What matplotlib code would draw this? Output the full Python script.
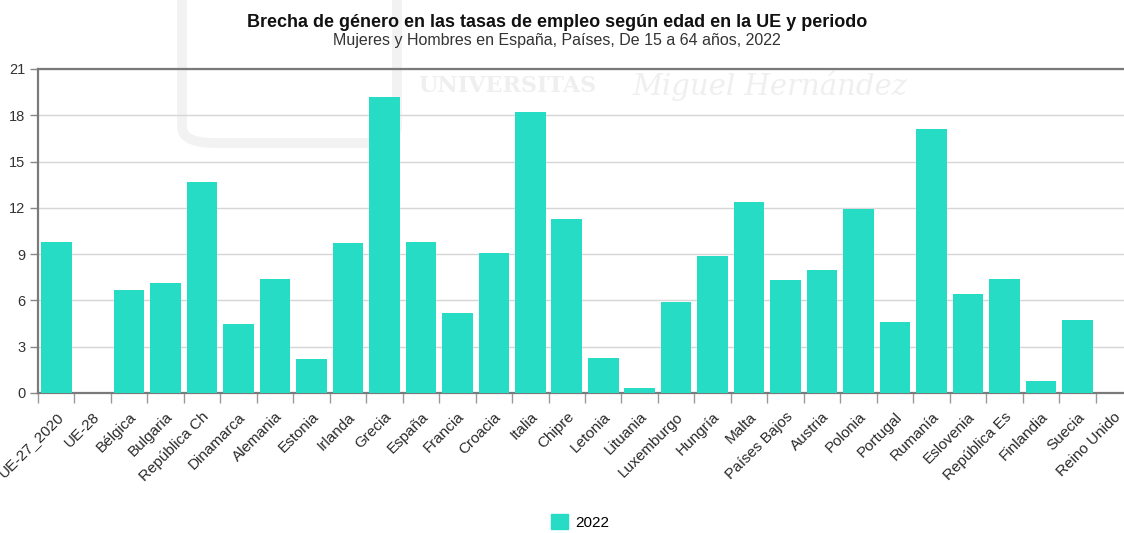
import matplotlib.pyplot as plt
from matplotlib.patches import Patch, FancyBboxPatch

plt.rcParams['font.family'] = ['Liberation Sans', 'DejaVu Sans']

TITLE = 'Brecha de género en las tasas de empleo según edad en la UE y periodo'
SUBTITLE = 'Mujeres y Hombres en España, Países, De 15 a 64 años, 2022'
SERIES = '2022'
BAR_COLOR = '#27dcc5'

countries = [
    'UE-27_2020', 'UE-28', 'Bélgica', 'Bulgaria', 'República Ch', 'Dinamarca',
    'Alemania', 'Estonia', 'Irlanda', 'Grecia', 'España', 'Francia', 'Croacia',
    'Italia', 'Chipre', 'Letonia', 'Lituania', 'Luxemburgo', 'Hungría', 'Malta',
    'Países Bajos', 'Austria', 'Polonia', 'Portugal', 'Rumanía', 'Eslovenia',
    'República Es', 'Finlandia', 'Suecia', 'Reino Unido',
]
# None = no data for that country
gap = [
    9.8, None, 6.7, 7.1, 13.7, 4.5,
    7.4, 2.2, 9.7, 19.2, 9.8, 5.2, 9.1,
    18.2, 11.3, 2.3, 0.3, 5.9, 8.9, 12.4,
    7.3, 8.0, 11.9, 4.6, 17.1, 6.4,
    7.4, 0.8, 4.7, None,
]
yticks = [0, 3, 6, 9, 12, 15, 18, 21]

fig = plt.figure(figsize=(11.24, 5.33), dpi=100)

# faint university watermark behind the chart
fig.patches.append(FancyBboxPatch((182 / 1124, 1 - 143 / 533), 215 / 1124, 0.32,
                                  boxstyle='round,pad=0,rounding_size=0.03',
                                  transform=fig.transFigure, fill=False,
                                  ec='#f2f2f2', lw=7, zorder=-1))
fig.text(418 / 1124, 1 - 86 / 533, 'UNIVERSITAS', fontsize=16, color='#efefef',
         fontweight='bold', family='DejaVu Serif', zorder=-1, va='center')
fig.text(632 / 1124, 1 - 86 / 533, 'Miguel Hernández', fontsize=21,
         color='#efefef', fontstyle='italic', family='DejaVu Serif',
         zorder=-1, va='center')

ax = fig.add_axes([38 / 1124, 140 / 533, 1094 / 1124, 324 / 533])
ax.patch.set_alpha(0)

x = list(range(len(countries)))
heights = [v if v is not None else 0 for v in gap]
ax.bar(x, heights, width=0.84, color=BAR_COLOR, zorder=3)

ax.set_xlim(-0.5, len(countries) - 0.5)
ax.set_ylim(0, 21)
ax.set_yticks(yticks)
ax.set_yticklabels([str(t) for t in yticks], fontsize=10.5, color='#333333')
ax.tick_params(axis='y', length=6, width=1, color='#888888', pad=3)
ax.grid(axis='y', color='#d6d6d6', lw=1, zorder=0)

ax.set_xticks(x)
ax.set_xticklabels(countries, rotation=45, ha='right', va='top',
                   rotation_mode='anchor', fontsize=11, color='#2a2a2a')
ax.tick_params(axis='x', length=0, pad=12)
ax.set_xticks([i - 0.5 for i in range(len(countries) + 1)], minor=True)
ax.tick_params(axis='x', which='minor', length=7, width=1, color='#999999')

for side in ('left', 'bottom', 'top'):
    ax.spines[side].set_color('#7a7a7a')
    ax.spines[side].set_linewidth(1.6)
ax.spines['right'].set_visible(False)

fig.text(557 / 1124, 1 - 22 / 533, TITLE, ha='center', va='center',
         fontsize=13, fontweight='bold', color='#111111')
fig.text(557 / 1124, 1 - 41 / 533, SUBTITLE, ha='center', va='center',
         fontsize=11.5, color='#333333')

fig.legend(handles=[Patch(color=BAR_COLOR, label=SERIES)],
           loc='center', bbox_to_anchor=(580 / 1124, 1 - 522 / 533),
           frameon=False, fontsize=11, handlelength=1.1, handleheight=1.1,
           handletextpad=0.5)

fig.savefig('out.png', dpi=100)
